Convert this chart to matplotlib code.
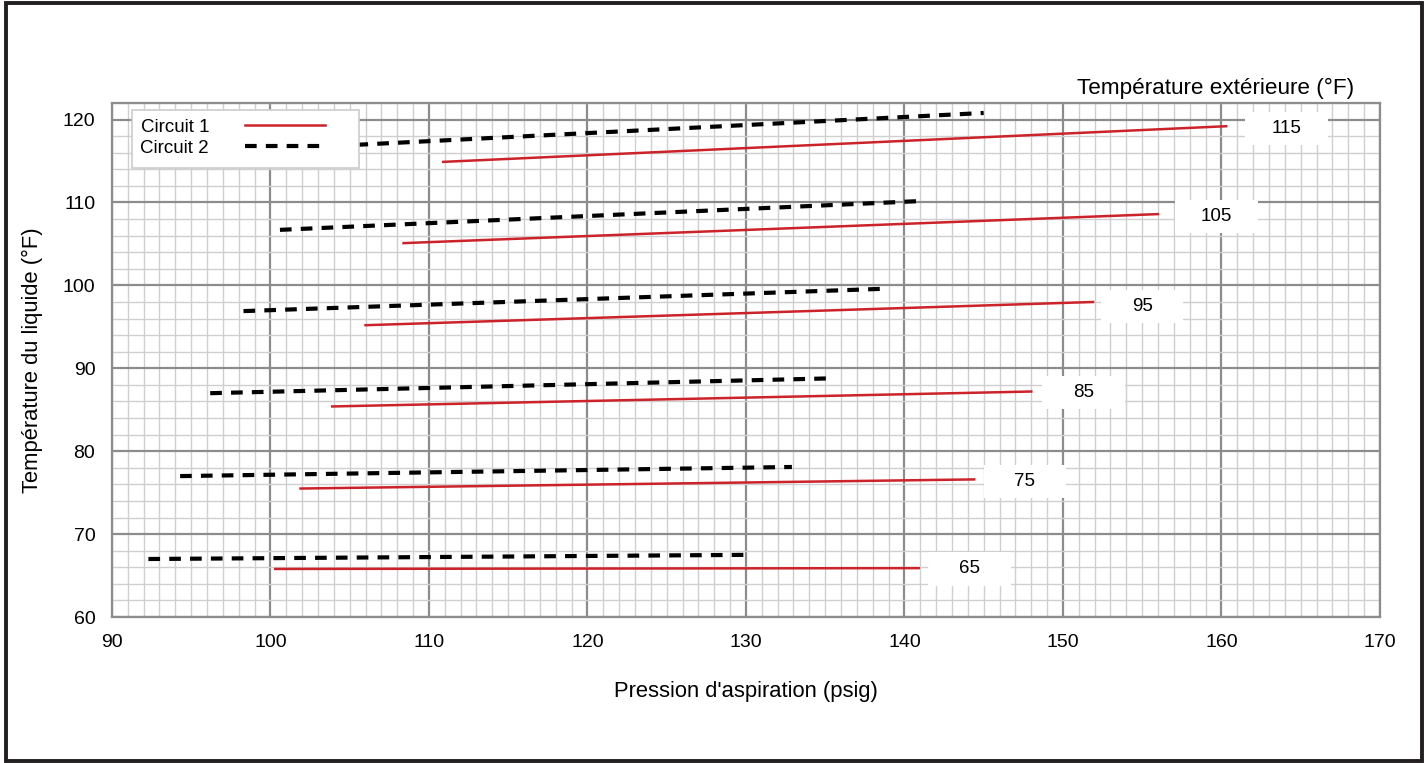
import matplotlib
matplotlib.use("Agg")
import matplotlib.pyplot as plt
from matplotlib.patches import Rectangle
from matplotlib.ticker import MultipleLocator

plt.rcParams["font.family"] = ["Liberation Sans", "DejaVu Sans"]

# outdoor temperature curves (°F)
outdoor = [65, 75, 85, 95, 105, 115]

# Circuit 1: (start psig, start temp, end psig, end temp)
c1_x0 = [100.3, 101.9, 103.9, 106.0, 108.4, 110.9]
c1_y0 = [65.8, 75.5, 85.4, 95.2, 105.1, 114.9]
c1_x1 = [140.9, 144.4, 148.0, 151.9, 156.0, 160.3]
c1_y1 = [65.9, 76.6, 87.2, 98.0, 108.6, 119.2]

# Circuit 2
c2_x0 = [92.3, 94.3, 96.2, 98.3, 100.6, 102.8]
c2_y0 = [67.0, 77.0, 87.0, 96.9, 106.7, 116.7]
c2_x1 = [130.1, 132.9, 135.6, 138.8, 141.3, 145.0]
c2_y1 = [67.5, 78.1, 88.8, 99.6, 110.2, 120.8]

# label positions
lab_x = [144.1, 147.6, 151.3, 155.0, 159.7, 164.1]
lab_y = [65.8, 76.3, 87.1, 97.5, 108.3, 118.9]

fig = plt.figure(figsize=(14.26, 7.63), dpi=100)
ax = fig.add_axes([0.0785, 0.1913, 0.8892, 0.6737])

ax.set_xlim(90, 170)
ax.set_ylim(60, 122)
ax.xaxis.set_major_locator(MultipleLocator(10))
ax.xaxis.set_minor_locator(MultipleLocator(1))
ax.yaxis.set_major_locator(MultipleLocator(10))
ax.yaxis.set_minor_locator(MultipleLocator(2))
ax.grid(which="minor", color="#cfcfcf", linewidth=1.0)
ax.grid(which="major", color="#8c8c8c", linewidth=1.6)
ax.set_axisbelow(True)
ax.tick_params(which="both", length=0, labelsize=14, pad=12)
for s in ax.spines.values():
    s.set_color("#8c8c8c")
    s.set_linewidth(1.6)

bw, bh = 5.2, 4.0  # label box size in data units
for i in range(len(outdoor)):
    l1, = ax.plot([c1_x0[i], c1_x1[i]], [c1_y0[i], c1_y1[i]],
                  color="#cc2229", linewidth=1.8)
    l2, = ax.plot([c2_x0[i], c2_x1[i]], [c2_y0[i], c2_y1[i]],
                  color="black", linewidth=3.0, linestyle=(0, (2.8, 2.2)))
    ax.add_patch(Rectangle((lab_x[i] - bw / 2, lab_y[i] - bh / 2), bw, bh,
                           facecolor="white", edgecolor="none", zorder=3))
    ax.text(lab_x[i], lab_y[i], str(outdoor[i]), fontsize=13.5,
            ha="center", va="center", zorder=4)

# legend frame drawn separately (the original has extra room on the right)
ax.add_patch(Rectangle((0.0158, 0.8735), 0.179, 0.1128, transform=ax.transAxes,
                       facecolor="white", edgecolor="#cccccc", linewidth=1.2,
                       zorder=5))
leg = ax.legend([l1, l2], ["Circuit 1", "Circuit 2"], loc="upper left",
                bbox_to_anchor=(0.0158, 0.986), markerfirst=False, frameon=False,
                fontsize=13.5, handlelength=4.3, handletextpad=1.9,
                borderpad=0.45, labelspacing=0.2, borderaxespad=0.0)
leg.set_zorder(6)

ax.set_xlabel("Pression d'aspiration (psig)", fontsize=15.8, labelpad=22)
ax.set_ylabel("Température du liquide (°F)", fontsize=15.8, labelpad=14)
ax.text(1.0 - 0.02, 1.008, "Température extérieure (°F)", transform=ax.transAxes,
        fontsize=16.2, ha="right", va="bottom")

fig.patches.append(Rectangle((0.004, 0.002), 0.993, 0.994, transform=fig.transFigure,
                             fill=False, edgecolor="#231f20", linewidth=2.8))

fig.savefig("out.png", dpi=100)
